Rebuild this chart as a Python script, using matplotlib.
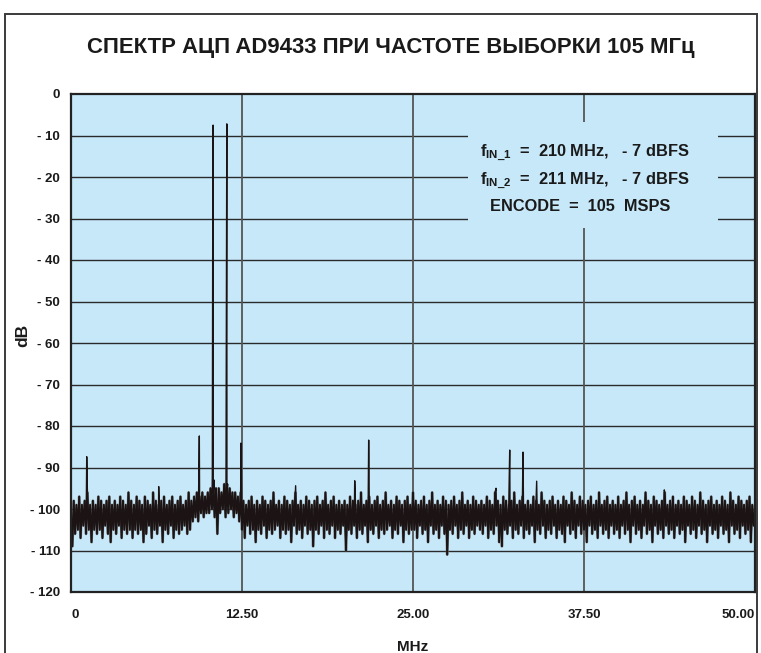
import numpy as np
import matplotlib
matplotlib.use("Agg")
import matplotlib.pyplot as plt
from matplotlib.patches import Rectangle

plt.rcParams['font.family'] = ['Liberation Sans', 'DejaVu Sans']
plt.rcParams['mathtext.fontset'] = 'custom'
plt.rcParams['mathtext.bf'] = 'Liberation Sans:bold'
plt.rcParams['mathtext.rm'] = 'Liberation Sans:bold'

title = "СПЕКТР АЦП AD9433 ПРИ ЧАСТОТЕ ВЫБОРКИ 105 МГц"
x_ticks = [0, 12.5, 25.0, 37.5, 50.0]
x_tick_labels = ["0", "12.50", "25.00", "37.50", "50.00"]
y_ticks = [0, -10, -20, -30, -40, -50, -60, -70, -80, -90, -100, -110, -120]
y_tick_labels = ["0", "- 10", "- 20", "- 30", "- 40", "- 50", "- 60", "- 70",
                 "- 80", "- 90", "- 100", "- 110", "- 120"]
x_label = "MHz"
y_label = "dB"
note_lines = [r"f$_{\mathbf{IN\_1}}$  =  210 MHz,   - 7 dBFS",
              r"f$_{\mathbf{IN\_2}}$  =  211 MHz,   - 7 dBFS",
              "ENCODE  =  105  MSPS"]

# noise floor, read every 0.1 MHz (0.0 ... 50.0)
noise_db = [
    -100, -109, -98, -106, -99, -105, -97, -107, -99, -104, -98, -106, -96, -105, -99, -108, -98, -105, -99, -106,
    -97, -105, -98, -107, -99, -104, -98, -106, -97, -108, -99, -105, -98, -106, -99, -104, -97, -107, -98, -105,
    -99, -106, -96, -105, -98, -107, -99, -105, -97, -106,
    -98, -105, -99, -108, -97, -106, -98, -104, -99, -107, -96, -105, -98, -106, -99, -104, -98, -108, -97, -105,
    -99, -106, -98, -104, -97, -107, -99, -105, -98, -106, -97, -105, -99, -104, -98, -106, -96, -105, -98, -103,
    -97, -102, -96, -103, -97, -101, -96, -102, -97, -101,
    -96, -101, -95, -100, -96, -102, -95, -106, -95, -101, -96, -100, -94, -102, -95, -101, -95, -100, -96, -102,
    -96, -101, -97, -103, -96, -105, -98, -107, -99, -104, -98, -106, -97, -105, -99, -108, -98, -105, -99, -106,
    -97, -104, -98, -107, -99, -105, -98, -106, -96, -105,
    -99, -104, -98, -107, -99, -105, -97, -106, -98, -105, -99, -108, -98, -104, -96, -106, -99, -105, -98, -107,
    -99, -104, -97, -106, -98, -105, -99, -109, -98, -105, -97, -106, -99, -104, -98, -107, -96, -105, -99, -106,
    -98, -104, -97, -107, -99, -105, -98, -106, -99, -104,
    -98, -110, -99, -105, -97, -106, -98, -104, -99, -107, -98, -105, -96, -106, -99, -104, -98, -108, -97, -105,
    -99, -106, -98, -104, -97, -107, -99, -105, -98, -106, -96, -105, -99, -104, -98, -107, -99, -105, -97, -106,
    -98, -104, -99, -108, -98, -105, -97, -106, -99, -105,
    -96, -105, -98, -107, -99, -104, -98, -106, -97, -105, -99, -108, -98, -104, -96, -106, -99, -105, -98, -107,
    -99, -104, -97, -106, -98, -111, -99, -105, -98, -106, -97, -104, -99, -107, -98, -105, -96, -106, -99, -104,
    -98, -107, -99, -105, -97, -106, -98, -104, -99, -105,
    -98, -106, -99, -104, -97, -107, -98, -105, -99, -106, -96, -104, -98, -108, -99, -109, -97, -105, -98, -106,
    -99, -104, -98, -107, -96, -105, -99, -106, -98, -104, -97, -107, -99, -105, -98, -106, -99, -104, -97, -108,
    -98, -105, -99, -106, -96, -104, -98, -107, -99, -105,
    -98, -106, -97, -104, -99, -107, -98, -105, -99, -106, -97, -108, -98, -104, -99, -106, -96, -105, -98, -107,
    -99, -104, -97, -106, -98, -105, -99, -108, -98, -104, -97, -106, -99, -105, -98, -107, -96, -104, -99, -106,
    -98, -105, -97, -107, -99, -104, -98, -106, -99, -105,
    -97, -107, -99, -104, -98, -106, -96, -105, -99, -108, -98, -104, -97, -106, -99, -105, -98, -107, -99, -104,
    -96, -106, -98, -105, -99, -108, -97, -104, -98, -106, -99, -105, -98, -107, -96, -104, -99, -106, -98, -105,
    -97, -107, -99, -104, -98, -106, -99, -105, -97, -108,
    -98, -104, -99, -106, -97, -105, -98, -107, -99, -104, -96, -106, -98, -105, -99, -108, -98, -104, -97, -106,
    -99, -105, -98, -107, -99, -104, -97, -106, -98, -105, -99, -108, -96, -104, -98, -106, -99, -105, -97, -107,
    -98, -104, -99, -106, -98, -105, -97, -108, -99, -104, -100,
]
noise_mhz = np.linspace(0.0, 50.0, len(noise_db))

# tones, spurs and tone skirts
spur_mhz = [1.15, 6.41, 9.38, 10.33, 10.37, 10.39, 10.45, 11.33, 11.37, 11.39, 11.45,
            12.43, 16.42, 20.74, 21.76, 31.07, 32.07, 33.04, 34.04, 43.37]
spur_db = [-87.4, -94.6, -82.4, -92.0, -10.8, -7.5, -93.0, -93.0, -37.6, -7.2, -94.0,
           -84.1, -94.4, -93.2, -83.4, -95.0, -85.8, -86.3, -93.3, -95.4]

f_all = np.concatenate([noise_mhz, spur_mhz])
d_all = np.concatenate([noise_db, spur_db])
order = np.argsort(f_all, kind="stable")
f_all = f_all[order]
d_all = d_all[order]

W, H = 761, 653
fig = plt.figure(figsize=(W / 100, H / 100), dpi=100)
fig.patch.set_facecolor("white")

# outer frame
fig.patches.append(Rectangle((5 / W, -0.05), 752 / W, 1.05 - 14 / H, transform=fig.transFigure,
                             fill=False, edgecolor="#3a3a3a", linewidth=1.4))

ax = fig.add_axes([71 / W, 1 - 592 / H, 684 / W, 498 / H])
bg = "#c6e8f9"
ax.set_facecolor(bg)
ax.set_xlim(0, 50)
ax.set_ylim(-120, 0)

for yv in y_ticks[1:-1]:
    ax.axhline(yv, color="#2a2a2a", linewidth=1.0, zorder=1)
for xv in x_ticks[1:-1]:
    ax.axvline(xv, color="#555555", linewidth=1.3, zorder=1)

# background behind the note
ax.add_patch(Rectangle((29.0, -32.3), 18.3, 25.6, facecolor=bg, edgecolor="none", zorder=2))

ax.plot(noise_mhz, noise_db, color="#6a6a6a", linewidth=2.0, alpha=0.6, zorder=3)
ax.plot(noise_mhz, noise_db, color="#1c1414", linewidth=1.3, zorder=3.1)
ax.plot(f_all, d_all, color="#1c1414", linewidth=1.0, zorder=3.2)

for s in ax.spines.values():
    s.set_color("#222222")
    s.set_linewidth(1.6)
    s.set_zorder(5)

ax.set_xticks(x_ticks)
ax.set_xticklabels(x_tick_labels)
ax.set_yticks(y_ticks)
ax.set_yticklabels(y_tick_labels)
ax.tick_params(length=0, labelsize=9.5, colors="#1a1a1a")
ax.tick_params(axis="x", pad=12)
ax.tick_params(axis="y", pad=8)
for lab in ax.get_xticklabels() + ax.get_yticklabels():
    lab.set_fontweight("bold")
xl = ax.get_xticklabels()
xl[0].set_horizontalalignment("left")
xl[-1].set_horizontalalignment("right")

ax.set_xlabel(x_label, fontsize=11, fontweight="bold", labelpad=14, color="#1a1a1a")
fig.text(23 / W, 1 - 335 / H, y_label, rotation=90, fontsize=12.5, fontweight="bold",
         ha="center", va="center", color="#1a1a1a")

ys = [-14.2, -21.0, -27.2]
xs = [29.9, 29.9, 30.6]
for t, xv, yv in zip(note_lines, xs, ys):
    ax.text(xv, yv, t, fontsize=11.8, fontweight="bold", ha="left", va="center",
            color="#1a1a1a", zorder=6)

fig.text(391 / W, 1 - 48 / H, title, fontsize=15.9, fontweight="bold",
         ha="center", va="center", color="#1a1a1a")

fig.savefig("out.png", dpi=100, facecolor="white")
